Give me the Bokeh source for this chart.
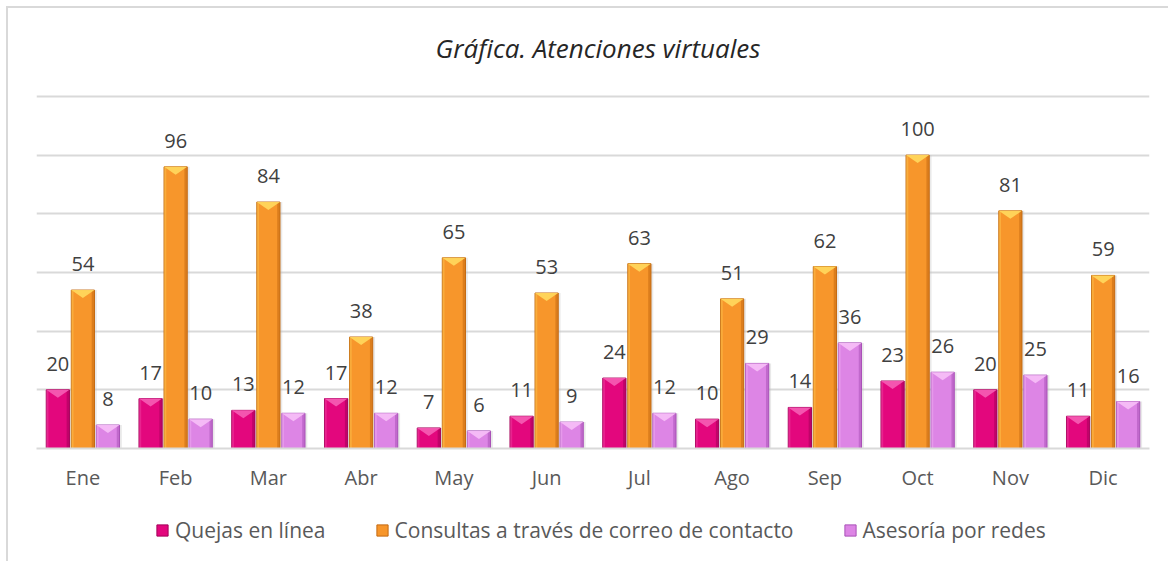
import numpy as np
from bokeh.plotting import figure
from bokeh.layouts import column
from bokeh.models import Range1d, FixedTicker, Legend, LegendItem, ColumnDataSource, Div
from bokeh.embed import file_html
from bokeh.resources import INLINE

months = ["Ene", "Feb", "Mar", "Abr", "May", "Jun", "Jul", "Ago", "Sep", "Oct", "Nov", "Dic"]
quejas = [20, 17, 13, 17, 7, 11, 24, 10, 14, 23, 20, 11]
consultas = [54, 96, 84, 38, 65, 53, 63, 51, 62, 100, 81, 59]
asesoria = [8, 10, 12, 12, 6, 9, 12, 29, 36, 26, 25, 16]
series_names = ["Quejas en línea", "Consultas a través de correo de contacto", "Asesoría por redes"]
title_text = "Gráfica. Atenciones virtuales"

FONT = "Open Sans"
colors = [
    # main, top bevel, dark edge
    ("#E3077D", "#F45AB2", "#A4005A"),
    ("#F7962B", "#FFD65C", "#C46A12"),
    ("#DD85E5", "#F5BDF7", "#A952B8"),
]
offsets = [-0.27, 0.0, 0.27]
bw = 0.25

title_div = Div(text=f'<div style="width:1160px;box-sizing:border-box;text-align:center;'
                     f'padding-left:20px;padding-top:22px;'
                     f'font-family:\'Open Sans\';font-style:italic;font-size:26px;line-height:36px;'
                     f'color:#262626;white-space:nowrap">{title_text}</div>',
                width=1160, height=60, margin=0)

p = figure(width=1160, height=440, output_backend="svg", toolbar_location=None,
           x_range=Range1d(0, 12), y_range=Range1d(0, 121),
           min_border_left=28, min_border_right=19, min_border_top=25, min_border_bottom=60)
p.outline_line_color = None
p.background_fill_color = "white"
p.border_fill_color = "white"

p.yaxis.visible = False
p.ygrid.ticker = FixedTicker(ticks=[20, 40, 60, 80, 100, 120])
p.ygrid.grid_line_color = "#d9d9d9"
p.ygrid.grid_line_width = 2
p.xgrid.grid_line_color = None

xc = np.arange(12) + 0.5
p.xaxis.ticker = FixedTicker(ticks=list(xc))
p.xaxis.major_label_overrides = {float(x): m for x, m in zip(xc, months)}
p.xaxis.major_tick_line_color = None
p.xaxis.minor_tick_line_color = None
p.xaxis.major_tick_out = 0
p.xaxis.major_label_standoff = 15
p.xaxis.axis_line_color = "#d9d9d9"
p.xaxis.axis_line_width = 2
p.xaxis.major_label_text_font = FONT
p.xaxis.major_label_text_font_size = "20px"
p.xaxis.major_label_text_color = "#595959"

px_per_unit = 355 / 121.0
d = 8 / px_per_unit

# legend-only figure
lg = figure(width=1160, height=53, output_backend="svg", toolbar_location=None,
            x_range=Range1d(0, 1), y_range=Range1d(0, 1),
            x_axis_location=None, y_axis_location=None,
            min_border_left=0, min_border_right=0, min_border_top=0, min_border_bottom=0)
lg.grid.visible = False
lg.outline_line_color = None

legend_items = []
for vals, (c, ctop, cdark), off, name in zip([quejas, consultas, asesoria], colors, offsets, series_names):
    vals = np.array(vals, dtype=float)
    xs = xc + off
    src = ColumnDataSource(dict(x=xs, top=vals, lbl=[str(int(v)) for v in vals]))
    # shadow
    p.vbar(x=xs + 0.025, top=vals, bottom=0, width=bw, fill_color="#bfbfbf", fill_alpha=0.35, line_color=None)
    p.vbar(x="x", top="top", bottom=0, width=bw, source=src, fill_color=c, line_color=cdark, line_width=1)
    # right dark strip
    p.vbar(x=xs + bw / 2 - 0.015, top=vals, bottom=0, width=0.03, fill_color=cdark, fill_alpha=0.55, line_color=None)
    # left light strip
    p.vbar(x=xs - bw / 2 + 0.012, top=vals, bottom=0, width=0.024, fill_color=ctop, fill_alpha=0.35, line_color=None)
    # top bevel triangle
    txs = [[x - bw / 2, x + bw / 2, x] for x in xs]
    tys = [[v, v, v - d] for v in vals]
    p.patches(txs, tys, fill_color=ctop, line_color=None, fill_alpha=0.95)
    # labels
    p.text(x="x", y="top", text="lbl", source=src, text_align="center", text_baseline="bottom",
           y_offset=-19, text_font_size="20px", text_color="#404040", text_font={"value": FONT})
    # legend swatch renderer (hidden; only its style is used by the legend)
    lr = lg.vbar(x=[-5.0], top=[1.0], width=0.1, fill_color=c, line_color=cdark, line_width=1)
    lr.visible = False
    legend_items.append(LegendItem(label=name, renderers=[lr]))

legend = Legend(items=legend_items, orientation="horizontal", location=(119, 17),
                label_text_font=FONT, label_text_font_size="21px", label_text_color="#595959",
                glyph_width=14, glyph_height=14, label_standoff=6, spacing=49,
                border_line_color=None, background_fill_alpha=0, margin=0, padding=0,
                inactive_fill_alpha=0)
lg.add_layout(legend, "center")

layout = column(title_div, p, lg, spacing=0)
layout.styles = {"margin-left": "6px", "margin-top": "6px",
                 "border-left": "2px solid #d9d9d9", "border-top": "2px solid #d9d9d9"}

open("out.html", "w").write(file_html(layout, INLINE))
